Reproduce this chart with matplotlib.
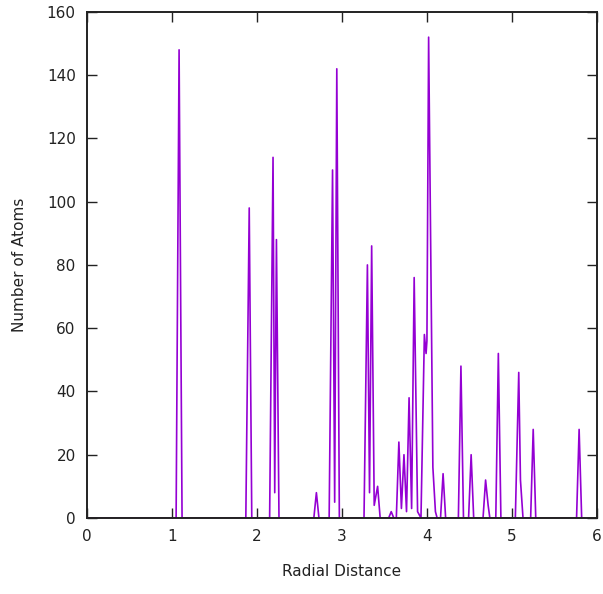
import matplotlib.pyplot as plt

# radial distribution: bin centre (r) and atom count (n)
r = [0.00, 1.05, 1.085, 1.12,
     1.87, 1.91, 1.94,
     2.15, 2.19, 2.21, 2.23, 2.26,
     2.67, 2.70, 2.73,
     2.85, 2.89, 2.915, 2.94, 2.97,
     3.26, 3.30, 3.325, 3.35, 3.38, 3.42, 3.45,
     3.55, 3.58, 3.61,
     3.64, 3.67, 3.70, 3.73, 3.76, 3.79, 3.82, 3.85, 3.89,
     3.93, 3.97, 3.99, 4.00, 4.02, 4.07, 4.10, 4.12,
     4.16, 4.19, 4.22,
     4.37, 4.40, 4.43,
     4.49, 4.52, 4.55,
     4.66, 4.69, 4.72, 4.74,
     4.81, 4.84, 4.87,
     5.04, 5.08, 5.10, 5.13,
     5.22, 5.25, 5.28,
     5.76, 5.79, 5.82, 5.85]
n = [0, 0, 148, 0,
     0, 98, 0,
     0, 114, 8, 88, 0,
     0, 8, 0,
     0, 110, 5, 142, 0,
     0, 80, 8, 86, 4, 10, 0,
     0, 2, 0,
     0, 24, 3, 20, 2, 38, 3, 76, 2,
     0, 58, 52, 56, 152, 16, 2, 0,
     0, 14, 0,
     0, 48, 0,
     0, 20, 0,
     0, 12, 4, 0,
     0, 52, 0,
     0, 46, 12, 0,
     0, 28, 0,
     0, 28, 0, 0]

x_ticks = [0, 1, 2, 3, 4, 5, 6]
y_ticks = [0, 20, 40, 60, 80, 100, 120, 140, 160]

plt.rcParams["font.family"] = ["DejaVu Sans"]

fig = plt.figure(figsize=(6.03, 5.94), dpi=100)
ax = fig.add_axes([0.144, 0.128, 0.846, 0.852])

ax.plot(r, n, color="#9400D3", linewidth=1.2, zorder=2)

ax.set_xlim(0, 6)
ax.set_ylim(0, 160)
ax.set_xticks(x_ticks)
ax.set_yticks(y_ticks)

ax.tick_params(direction="in", length=7, width=1.0, top=True, right=True,
               labelsize=11, colors="#222222", pad=8)
for side in ax.spines.values():
    side.set_linewidth(1.4)
    side.set_color("#222222")
    side.set_zorder(3)

ax.set_xlabel("Radial Distance", fontsize=11, labelpad=14, color="#222222")
ax.set_ylabel("Number of Atoms", fontsize=11, labelpad=14, color="#222222")

fig.savefig("out.png", dpi=100)
